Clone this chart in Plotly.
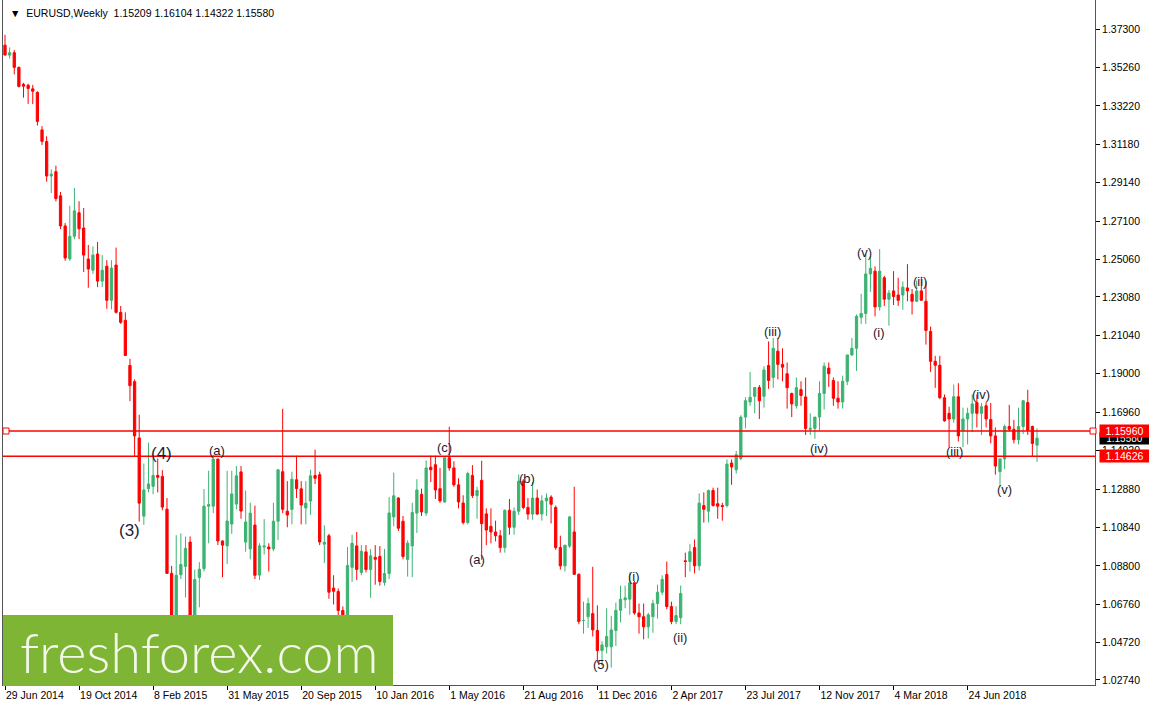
import plotly.graph_objects as go
import pandas as pd

# ---------------- data (EURUSD weekly) ----------------
start_week = "2014-06-29"

opens = [
    1.3645, 1.3592, 1.3605, 1.3527, 1.3437, 1.3432, 1.3413, 1.3394, 1.3195, 1.3133,
    1.2950, 1.2973, 1.2845, 1.2685, 1.2510, 1.2630, 1.2755, 1.2674, 1.2509, 1.2450,
    1.2536, 1.2392, 1.2471, 1.2290, 1.2477, 1.2226, 1.2184, 1.1944, 1.1858, 1.1559,
    1.1144, 1.1290, 1.1302, 1.1360, 1.1355, 1.1181, 1.0840, 1.0495, 1.0833, 1.0877,
    1.1006, 1.0600, 1.0818, 1.0865, 1.1197, 1.1197, 1.1447, 1.1012, 1.0986, 1.1102,
    1.1208, 1.1379, 1.1006, 1.0970, 1.1097, 1.0831, 1.0980, 1.0980, 1.0970, 1.1117,
    1.1380, 1.1170, 1.1180, 1.1337, 1.1289, 1.1187, 1.1224, 1.1360, 1.1364, 1.0995,
    1.1040, 1.0762, 1.0744, 1.0643, 1.0590, 1.0872, 1.0986, 1.0845, 1.0954, 1.0860,
    1.0925, 1.0930, 1.0792, 1.0839, 1.1140, 1.1240, 1.1117, 1.0914, 1.0986, 1.1160,
    1.1260, 1.1160, 1.1404, 1.1417, 1.1290, 1.1219, 1.1454, 1.1400, 1.1310, 1.1214,
    1.1110, 1.1360, 1.1253, 1.1334, 1.1156, 1.1090, 1.1060, 1.1040, 1.0977, 1.1175,
    1.1085, 1.1170, 1.1330, 1.1190, 1.1155, 1.1240, 1.1155, 1.1225, 1.1245, 1.1190,
    1.0977, 1.0880, 1.0985, 1.1060, 1.0835, 1.0590, 1.0610, 1.0627, 1.0537, 1.0430,
    1.0450, 1.0450, 1.0537, 1.0644, 1.0700, 1.0703, 1.0790, 1.0630, 1.0610, 1.0556,
    1.0610, 1.0680, 1.0740, 1.0834, 1.0664, 1.0585, 1.0605, 1.0907, 1.0903, 1.0977,
    1.0880, 1.1200, 1.1170, 1.1280, 1.1210, 1.1200, 1.1200, 1.1426, 1.1390, 1.1450,
    1.1670, 1.1750, 1.1780, 1.1827, 1.1780, 1.1944, 1.1880, 1.2020, 1.1950, 1.1900,
    1.1795, 1.1730, 1.1816, 1.1777, 1.1605, 1.1610, 1.1670, 1.1795, 1.1930, 1.1864,
    1.1770, 1.1750, 1.1860, 1.2000, 1.2035, 1.2200, 1.2220, 1.2430, 1.2445, 1.2255,
    1.2410, 1.2296, 1.2340, 1.2318, 1.2318, 1.2356, 1.2322, 1.2285, 1.2340, 1.2285,
    1.2125, 1.1966, 1.1945, 1.1773, 1.1690, 1.1660, 1.1778, 1.1597, 1.1660, 1.1690,
    1.1747, 1.1690, 1.1730, 1.1657, 1.1570, 1.1380, 1.1448, 1.1620, 1.1605, 1.1550,
    1.1620, 1.1747, 1.1620, 1.15209,
]
highs = [
    1.3700, 1.3633, 1.3619, 1.3531, 1.3445, 1.3440, 1.3434, 1.3400, 1.3215, 1.3161,
    1.2985, 1.3005, 1.2865, 1.2700, 1.2792, 1.2887, 1.2816, 1.2780, 1.2584, 1.2576,
    1.2600, 1.2530, 1.2503, 1.2503, 1.2570, 1.2260, 1.2226, 1.1979, 1.1870, 1.1683,
    1.1423, 1.1534, 1.1450, 1.1450, 1.1388, 1.1240, 1.0880, 1.1043, 1.1052, 1.1035,
    1.1036, 1.0860, 1.0900, 1.1288, 1.1385, 1.1468, 1.1450, 1.1015, 1.1385, 1.1385,
    1.1410, 1.1410, 1.1280, 1.1215, 1.1200, 1.1000, 1.1128, 1.1000, 1.1215, 1.1390,
    1.1714, 1.1330, 1.1380, 1.1465, 1.1330, 1.1330, 1.1390, 1.1497, 1.1380, 1.1095,
    1.1050, 1.0830, 1.0760, 1.0665, 1.0980, 1.1045, 1.1060, 1.0990, 1.0990, 1.0970,
    1.0990, 1.0985, 1.0970, 1.1245, 1.1375, 1.1245, 1.1145, 1.1015, 1.1215, 1.1340,
    1.1290, 1.1440, 1.1465, 1.1465, 1.1400, 1.1460, 1.1619, 1.1435, 1.1345, 1.1255,
    1.1380, 1.1415, 1.1300, 1.1438, 1.1185, 1.1185, 1.1120, 1.1070, 1.1180, 1.1235,
    1.1190, 1.1365, 1.1340, 1.1240, 1.1325, 1.1285, 1.1255, 1.1265, 1.1255, 1.1200,
    1.1040, 1.0990, 1.1145, 1.1300, 1.0840, 1.0690, 1.0710, 1.0875, 1.0670, 1.0480,
    1.0655, 1.0615, 1.0685, 1.0775, 1.0775, 1.0845, 1.0800, 1.0680, 1.0680, 1.0630,
    1.0700, 1.0780, 1.0830, 1.0903, 1.0690, 1.0665, 1.0775, 1.0950, 1.0995, 1.1020,
    1.1265, 1.1270, 1.1285, 1.1295, 1.1295, 1.1215, 1.1445, 1.1445, 1.1490, 1.1680,
    1.1775, 1.1910, 1.1830, 1.1840, 1.1940, 1.2072, 1.2090, 1.2090, 1.2035, 1.1960,
    1.1800, 1.1880, 1.1860, 1.1880, 1.1690, 1.1670, 1.1860, 1.1960, 1.1960, 1.1880,
    1.1860, 1.1890, 1.2000, 1.2090, 1.2215, 1.2325, 1.2535, 1.2525, 1.2470, 1.2562,
    1.2420, 1.2345, 1.2445, 1.2410, 1.2390, 1.2482, 1.2350, 1.2395, 1.2415, 1.2390,
    1.2150, 1.1995, 1.1995, 1.1790, 1.1725, 1.1843, 1.1850, 1.1720, 1.1720, 1.1790,
    1.1790, 1.1745, 1.1750, 1.1745, 1.1615, 1.1445, 1.1630, 1.1735, 1.1655, 1.1720,
    1.1757, 1.1815, 1.1625, 1.16104,
]
lows = [
    1.3592, 1.3574, 1.3490, 1.3420, 1.3366, 1.3333, 1.3332, 1.3218, 1.3115, 1.2920,
    1.2860, 1.2815, 1.2668, 1.2500, 1.2500, 1.2614, 1.2615, 1.2440, 1.2357, 1.2430,
    1.2360, 1.2360, 1.2245, 1.2242, 1.2220, 1.2165, 1.2000, 1.1754, 1.1460, 1.1115,
    1.1098, 1.1270, 1.1260, 1.1270, 1.1175, 1.0840, 1.0462, 1.0458, 1.0810, 1.0712,
    1.0520, 1.0520, 1.0660, 1.0850, 1.1000, 1.1160, 1.0990, 1.0820, 1.0890, 1.1050,
    1.1180, 1.1130, 1.0955, 1.0915, 1.0810, 1.0805, 1.0940, 1.0850, 1.0958, 1.1017,
    1.1160, 1.1085, 1.1100, 1.1240, 1.1100, 1.1100, 1.1150, 1.1315, 1.0990, 1.0895,
    1.0705, 1.0675, 1.0615, 1.0560, 1.0525, 1.0795, 1.0805, 1.0830, 1.0845, 1.0710,
    1.0780, 1.0775, 1.0775, 1.0810, 1.1090, 1.1065, 1.0915, 1.0823, 1.0820, 1.1055,
    1.1145, 1.1145, 1.1325, 1.1235, 1.1215, 1.1215, 1.1385, 1.1300, 1.1185, 1.1100,
    1.1100, 1.1240, 1.1130, 1.0912, 1.0990, 1.1000, 1.1010, 1.0950, 1.0950, 1.1045,
    1.1045, 1.1150, 1.1180, 1.1125, 1.1125, 1.1150, 1.1120, 1.1145, 1.1105, 1.0965,
    1.0860, 1.0850, 1.0975, 1.0850, 1.0570, 1.0520, 1.0550, 1.0505, 1.0365, 1.0350,
    1.0415, 1.0340, 1.0455, 1.0580, 1.0655, 1.0620, 1.0620, 1.0520, 1.0490, 1.0495,
    1.0525, 1.0600, 1.0725, 1.0650, 1.0570, 1.0570, 1.0570, 1.0820, 1.0850, 1.0840,
    1.0855, 1.1110, 1.1110, 1.1195, 1.1130, 1.1120, 1.1190, 1.1310, 1.1370, 1.1440,
    1.1610, 1.1730, 1.1690, 1.1660, 1.1720, 1.1820, 1.1825, 1.1870, 1.1860, 1.1715,
    1.1670, 1.1715, 1.1730, 1.1575, 1.1575, 1.1555, 1.1600, 1.1710, 1.1830, 1.1730,
    1.1715, 1.1715, 1.1840, 1.1995, 1.1915, 1.2165, 1.2165, 1.2335, 1.2205, 1.2235,
    1.2260, 1.2155, 1.2265, 1.2260, 1.2240, 1.2285, 1.2215, 1.2280, 1.2290, 1.2055,
    1.1910, 1.1825, 1.1765, 1.1645, 1.1510, 1.1640, 1.1540, 1.1510, 1.1525, 1.1590,
    1.1615, 1.1575, 1.1615, 1.1530, 1.1365, 1.1300, 1.1395, 1.1595, 1.1530, 1.1525,
    1.1580, 1.1575, 1.1460, 1.14322,
]
closes = [
    1.3592, 1.3605, 1.3527, 1.3426, 1.3427, 1.3415, 1.3400, 1.3240, 1.3134, 1.2950,
    1.2960, 1.2830, 1.2685, 1.2515, 1.2630, 1.2765, 1.2670, 1.2530, 1.2456, 1.2530,
    1.2392, 1.2450, 1.2290, 1.2461, 1.2226, 1.2173, 1.1997, 1.1837, 1.1570, 1.1213,
    1.1283, 1.1315, 1.1360, 1.1350, 1.1192, 1.0840, 1.0495, 1.0830, 1.0887, 1.0973,
    1.0600, 1.0807, 1.0862, 1.1197, 1.1205, 1.1447, 1.1012, 1.0990, 1.1118, 1.1262,
    1.1358, 1.1171, 1.1113, 1.1160, 1.0830, 1.0986, 1.0985, 1.0970, 1.1117, 1.1390,
    1.1180, 1.1150, 1.1340, 1.1290, 1.1203, 1.1213, 1.1358, 1.1345, 1.1007, 1.1005,
    1.0740, 1.0745, 1.0643, 1.0590, 1.0882, 1.1000, 1.0861, 1.0957, 1.0861, 1.0933,
    1.0915, 1.0797, 1.0839, 1.1161, 1.1252, 1.1080, 1.0930, 1.1000, 1.1163, 1.1283,
    1.1166, 1.1400, 1.1390, 1.1283, 1.1225, 1.1454, 1.1400, 1.1310, 1.1219, 1.1110,
    1.1370, 1.1253, 1.1280, 1.1104, 1.1070, 1.1060, 1.1040, 1.0977, 1.1175, 1.1085,
    1.1170, 1.1330, 1.1190, 1.1155, 1.1240, 1.1155, 1.1225, 1.1240, 1.1207, 1.0977,
    1.0880, 1.0990, 1.1140, 1.0835, 1.0585, 1.0590, 1.0680, 1.0540, 1.0430, 1.0460,
    1.0505, 1.0540, 1.0644, 1.0703, 1.0710, 1.0790, 1.0630, 1.0610, 1.0556, 1.0620,
    1.0680, 1.0740, 1.0808, 1.0664, 1.0585, 1.0616, 1.0733, 1.0903, 1.0955, 1.0880,
    1.1213, 1.1180, 1.1280, 1.1200, 1.1197, 1.1195, 1.1420, 1.1405, 1.1470, 1.1670,
    1.1757, 1.1775, 1.1827, 1.1757, 1.1920, 1.1864, 1.2035, 1.1950, 1.1935, 1.1826,
    1.1740, 1.1826, 1.1785, 1.1610, 1.1610, 1.1670, 1.1795, 1.1940, 1.1900, 1.1770,
    1.1750, 1.1860, 1.2000, 1.2035, 1.2205, 1.2220, 1.2430, 1.2460, 1.2255, 1.2445,
    1.2296, 1.2328, 1.2310, 1.2290, 1.2360, 1.2340, 1.2285, 1.2340, 1.2290, 1.2130,
    1.1966, 1.1945, 1.1773, 1.1650, 1.1660, 1.1778, 1.1570, 1.1660, 1.1690, 1.1740,
    1.1690, 1.1725, 1.1660, 1.1570, 1.1410, 1.1448, 1.1620, 1.1605, 1.1550, 1.1620,
    1.1757, 1.1600, 1.1530, 1.15580,
]

# axis ticks
x_tick_weeks = [0, 16, 32, 48, 64, 80, 96, 112, 128, 144, 160, 176, 192, 208]
x_tick_text = ["29 Jun 2014", "19 Oct 2014", "8 Feb 2015", "31 May 2015", "20 Sep 2015",
               "10 Jan 2016", "1 May 2016", "21 Aug 2016", "11 Dec 2016", "2 Apr 2017",
               "23 Jul 2017", "12 Nov 2017", "4 Mar 2018", "24 Jun 2018"]
y_tick_vals = [1.37300, 1.35260, 1.33220, 1.31180, 1.29140, 1.27100, 1.25060, 1.23080,
               1.21040, 1.19000, 1.16960, 1.14920, 1.12880, 1.10840, 1.08800, 1.06760,
               1.04720, 1.02740]

# horizontal levels and current price
level_upper = 1.15960
level_lower = 1.14626
last_price = 1.15580

# Elliott wave labels: text, week position, price
wave_text = ["(3)", "(4)", "(a)", "(c)", "(a)", "(b)", "(5)", "(i)", "(ii)", "(iii)",
             "(iv)", "(v)", "(i)", "(ii)", "(iii)", "(iv)", "(v)"]
wave_week = [27.0, 33.9, 45.8, 94.9, 102.0, 112.8, 128.8, 135.9, 145.9, 165.9,
             175.9, 185.8, 188.9, 197.7, 205.1, 210.9, 215.9]
wave_price = [1.1069, 1.1479, 1.1490, 1.1506, 1.0914, 1.1346, 1.0354, 1.0823, 1.0498, 1.2125,
              1.1501, 1.2546, 1.2119, 1.2391, 1.1485, 1.1789, 1.1287]
wave_big = [True, True] + [False] * 15

# ---------------- figure ----------------
GREEN = "rgb(60,179,113)"
RED = "#FF0000"
FONT = "Liberation Sans"

t0 = pd.Timestamp(start_week)
dates = pd.date_range(start_week, periods=len(closes), freq="7D")


def week_date(w):
    return t0 + pd.Timedelta(days=7 * w)


fig = go.Figure()
fig.add_trace(go.Candlestick(
    x=dates, open=opens, high=highs, low=lows, close=closes,
    increasing=dict(line=dict(color=GREEN, width=1), fillcolor=GREEN),
    decreasing=dict(line=dict(color=RED, width=1), fillcolor=RED),
    whiskerwidth=0, hoverinfo="skip", showlegend=False,
))

W, H = 1149, 708
ml, mr, mt, mb = 3, 54, 0, 23
pw = W - ml - mr
ph = H - mt - mb

# horizontal level lines
for lv in (level_upper, level_lower):
    fig.add_shape(type="line", xref="paper", x0=0, x1=1, yref="y", y0=lv, y1=lv,
                  line=dict(color=RED, width=1.5), layer="above")
# small square handles on the upper level line
for xp in (3 / pw, 1 - 2 / pw):
    fig.add_shape(type="rect", xref="paper", yref="y", xsizemode="pixel", ysizemode="pixel",
                  xanchor=xp, yanchor=level_upper, x0=-3, x1=3, y0=-3, y1=3,
                  line=dict(color=RED, width=1), fillcolor="white", layer="above")

annotations = []
# wave labels
for t, w, p, big in zip(wave_text, wave_week, wave_price, wave_big):
    annotations.append(dict(x=week_date(w), y=p, xref="x", yref="y", text=t, showarrow=False,
                            xanchor="center", yanchor="middle",
                            font=dict(family=FONT, size=17 if big else 13, color="#1b1b33")))

# price boxes on the right axis
box_x = 1 + 4 / pw
annotations.append(dict(x=box_x, xref="paper", xanchor="left", y=last_price, yref="y",
                        yanchor="middle",
                        text=f"{last_price:.5f}", showarrow=False, bgcolor="black",
                        font=dict(family=FONT, size=10, color="white"), width=49, height=11,
                        borderpad=0))
for lv in (level_upper, level_lower):
    annotations.append(dict(x=box_x, xref="paper", xanchor="left", y=lv, yref="y",
                            yanchor="middle",
                            text=f"{lv:.5f}", showarrow=False, bgcolor=RED,
                            font=dict(family=FONT, size=10.5, color="white"), width=49, height=12,
                            borderpad=0))

# header
annotations.append(dict(x=5 / pw, y=1 - 13 / ph, xref="paper", yref="paper", xanchor="left",
                        yanchor="middle", showarrow=False,
                        text="▼  EURUSD,Weekly  1.15209 1.16104 1.14322 1.15580",
                        font=dict(family=FONT, size=10.5, color="black")))

# logo
fig.add_shape(type="rect", xref="paper", yref="paper", x0=0, x1=(393 - ml) / pw,
              y0=1 - (686 - mt) / ph, y1=1 - (615 - mt) / ph,
              fillcolor="#7FB535", line=dict(width=0), layer="above")
annotations.append(dict(x=(199 - ml) / pw, y=1 - (651 - mt) / ph, xref="paper", yref="paper",
                        xanchor="center", yanchor="middle",
                        text="freshforex.com", showarrow=False,
                        font=dict(family="Lato", size=56, color="#F4F8EC", weight=300)))

x_range = [t0 - pd.Timedelta(days=3.03), t0 + pd.Timedelta(days=1648.7)]

fig.update_layout(
    width=W, height=H,
    margin=dict(l=ml, r=mr, t=mt, b=mb, autoexpand=False),
    paper_bgcolor="white", plot_bgcolor="white",
    annotations=annotations,
    showlegend=False,
    xaxis=dict(
        type="date", range=x_range, rangeslider=dict(visible=False),
        automargin=False,
        showgrid=False, zeroline=False,
        tickvals=[week_date(w) for w in x_tick_weeks], ticktext=x_tick_text,
        ticks="outside", ticklen=4, tickcolor="black",
        ticklabelposition="outside right",
        showline=True, linecolor="#555555", linewidth=1, mirror=False,
        tickfont=dict(family=FONT, size=10.5, color="black"),
    ),
    yaxis=dict(
        side="right", range=[1.024733, 1.388467], automargin=False,
        showgrid=False, zeroline=False,
        tickvals=y_tick_vals, ticktext=[f"{v:.5f}" for v in y_tick_vals],
        ticks="outside", ticklen=4, tickcolor="black",
        showline=True, linecolor="#555555", linewidth=1, mirror=True,
        tickfont=dict(family=FONT, size=10.5, color="black"),
    ),
)

fig.write_html("out.html", config={"displayModeBar": False},
               post_script="document.body.style.margin='0';document.body.style.padding='0';")
